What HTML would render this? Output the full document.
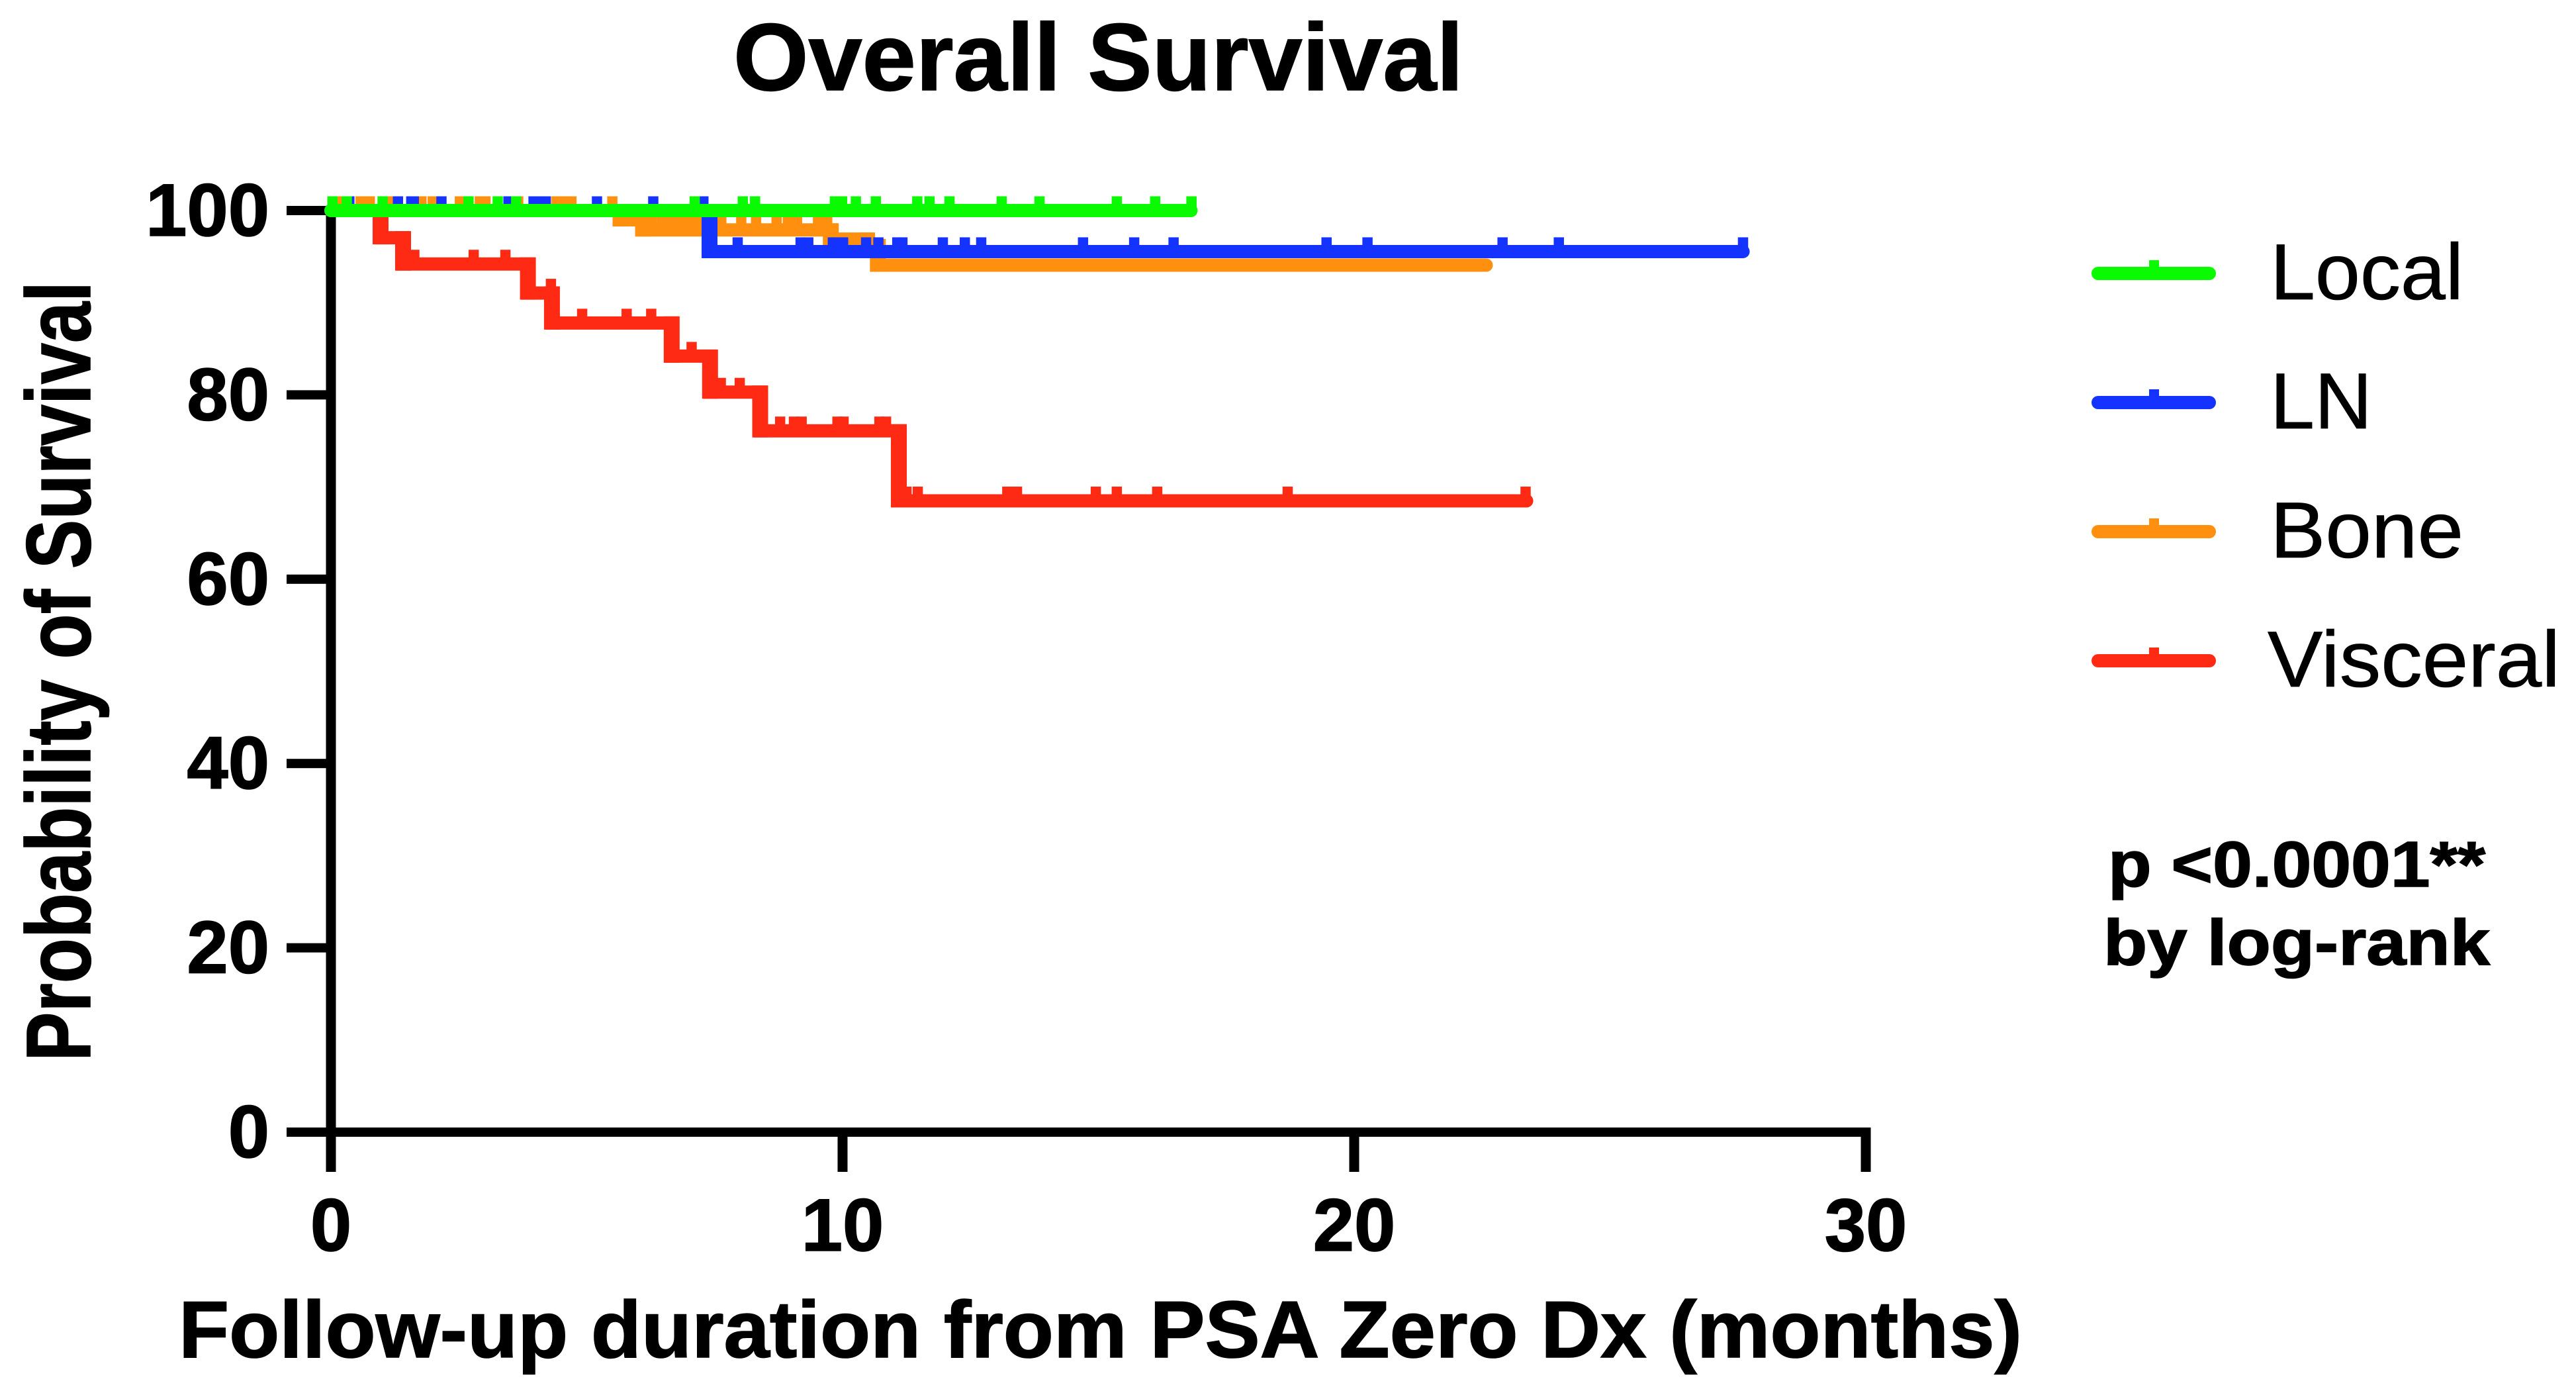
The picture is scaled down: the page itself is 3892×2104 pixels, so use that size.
<!DOCTYPE html>
<html lang="en">
<head>
<meta charset="utf-8">
<title>Overall Survival</title>
<style>
  html, body { margin: 0; padding: 0; background: #ffffff; }
  svg { display: block; }
  text { font-family: "Liberation Sans", Arial, sans-serif; fill: #000000; }
  .bold { font-weight: 700; stroke: #000000; stroke-width: 1.6px; }
</style>
</head>
<body>
<svg id="chart" xmlns="http://www.w3.org/2000/svg" width="3892" height="2104" viewBox="0 0 3892 2104">
  <rect x="0" y="0" width="3892" height="2104" fill="#ffffff"/>
  <text class="bold" x="1108" y="136" font-size="144" textLength="1103" lengthAdjust="spacingAndGlyphs">Overall Survival</text>
  <text class="bold" transform="translate(136 1603) rotate(-90)" font-size="138" textLength="1178" lengthAdjust="spacingAndGlyphs">Probability of Survival</text>
  <text class="bold" x="270" y="2050" font-size="122" textLength="2785" lengthAdjust="spacingAndGlyphs">Follow-up duration from PSA Zero Dx (months)</text>
  <g id="axes"></g>
  <g id="series"></g>
  <g id="legend"></g>
  <text class="bold" x="3185" y="1339" font-size="97" textLength="570" lengthAdjust="spacingAndGlyphs">p &lt;0.0001**</text>
  <text class="bold" x="3178" y="1457" font-size="97" textLength="584" lengthAdjust="spacingAndGlyphs">by log-rank</text>
</svg>
<script>
// ---- chart data (months, % survival) ----
const xTickValues = [0, 10, 20, 30];
const yTickValues = [0, 20, 40, 60, 80, 100];

const seriesNames = ['Visceral', 'Bone', 'LN', 'Local'];

const visceralTimes = [0, 0.97, 1.41, 3.85, 4.32, 6.66, 7.41, 8.39, 11.1];
const visceralSurvival = [100, 97.05, 94.2, 91.05, 87.8, 84.2, 80.3, 76.1, 68.5];
const visceralEnd = 23.5;
const visceralCensors = [1.63, 2.79, 3.41, 4.3, 4.91, 5.78, 6.26, 7.05, 7.62, 7.99, 8.78, 9.05, 9.2, 9.9, 10.02, 10.72, 10.85, 11.25, 11.47, 13.22, 13.41, 14.95, 15.36, 16.15, 18.7, 23.35];

const boneTimes = [0, 5.66, 6.1, 9.77, 10.48, 10.69];
const boneSurvival = [100, 98.99, 97.9, 96.9, 96.2, 94.07];
const boneEnd = 22.71;
const boneCensors = [0.15, 0.58, 0.76, 1.14, 1.77, 1.99, 2.52, 2.91, 3.02, 3.66, 4.41, 4.58, 4.7, 5.5, 6.27, 6.47, 6.66, 6.86, 7.05, 7.24, 7.63, 8.02, 8.31, 8.71, 8.93, 9.11, 9.52, 9.7];

const lnTimes = [0, 7.4];
const lnSurvival = [100, 95.55];
const lnEnd = 27.73;
const lnCensors = [0.36, 1.31, 1.57, 1.62, 2.16, 3.47, 3.96, 4.09, 4.2, 5.2, 6.3, 7.28, 7.95, 9.18, 9.33, 9.81, 10.01, 10.46, 10.7, 11.07, 11.17, 11.96, 12.39, 12.71, 14.7, 15.7, 16.47, 19.46, 20.26, 22.9, 24.0, 27.6];

const localTimes = [0];
const localSurvival = [100];
const localEnd = 16.94;
const localCensors = [0.03, 0.31, 1.01, 2.69, 3.26, 3.62, 7.11, 8.05, 8.29, 9.85, 9.99, 10.26, 10.65, 11.46, 11.7, 12.09, 13.11, 13.85, 15.36, 16.11, 16.82];

const legendLabels = ['Local', 'LN', 'Bone', 'Visceral'];

// ---- axis functions ----
const xScale = function (t) { return 500 + t * 77.3; };
const yScale = function (v) { return 1710 - v * 13.92; };

const NS = 'http://www.w3.org/2000/svg';
function mk(tag, attrs, parent) {
  const el = document.createElementNS(NS, tag);
  for (const k in attrs) el.setAttribute(k, attrs[k]);
  parent.appendChild(el);
  return el;
}

// ---- axes ----
const axes = document.getElementById('axes');

const yAxisLine = mk('rect', { x: 492.5, y: yScale(100) - 7, width: 15, height: 1770 - yScale(100) + 7, fill: '#000' }, axes);



const xAxisLine = mk('rect', { x: 433, y: yScale(0) - 7, width: xScale(30) + 7.5 - 433, height: 14, fill: '#000' }, axes);



yTickValues.forEach(function (v) {
  const tick = mk('rect', { x: 433, y: yScale(v) - 7, width: 67, height: 14, fill: '#000' }, axes);
  
  
  const label = mk('text', { x: 407, y: yScale(v) + 38, 'text-anchor': 'end', 'font-size': 112, 'class': 'bold' }, axes);
  label.textContent = String(v);
  
  
});

xTickValues.forEach(function (v) {
  const tick = mk('rect', { x: xScale(v) - 7.5, y: yScale(0), width: 15, height: 1770 - yScale(0), fill: '#000' }, axes);
  
  
  const label = mk('text', { x: xScale(v), y: 1889, 'text-anchor': 'middle', 'font-size': 112, 'class': 'bold' }, axes);
  label.textContent = String(v);
  
  
});

// ---- curves ----
const seriesColors = { Local: '#0AFA02', LN: '#1533FF', Bone: '#FF900F', Visceral: '#FF2A14' };
const seriesTimes = { Local: localTimes, LN: lnTimes, Bone: boneTimes, Visceral: visceralTimes };
const seriesValues = { Local: localSurvival, LN: lnSurvival, Bone: boneSurvival, Visceral: visceralSurvival };
const seriesEnds = { Local: localEnd, LN: lnEnd, Bone: boneEnd, Visceral: visceralEnd };
const seriesCensors = { Local: localCensors, LN: lnCensors, Bone: boneCensors, Visceral: visceralCensors };

function survivalAt(times, values, t) {
  let v = values[0];
  for (let i = 0; i < times.length; i++) { if (times[i] <= t) v = values[i]; }
  return v;
}

const seriesGroup = document.getElementById('series');
const LINE_W = 20;
const DROP_W = 24;
const CENSOR_W = 15.5;
const CENSOR_H = 21.5;

seriesNames.forEach(function (name) {
  const key = name.toLowerCase();
  const times = seriesTimes[name];
  const values = seriesValues[name];
  const color = seriesColors[name];
  const g = mk('g', {}, seriesGroup);
  
  

  let d = 'M' + xScale(times[0]) + ' ' + yScale(values[0]);
  for (let i = 1; i < times.length; i++) {
    d += ' H' + xScale(times[i]) + ' V' + yScale(values[i]);
  }
  d += ' H' + (xScale(seriesEnds[name]) - LINE_W / 2);
  const line = mk('path', { d: d, fill: 'none', stroke: color, 'stroke-width': LINE_W, 'stroke-linecap': 'round', 'stroke-linejoin': 'miter' }, g);
  
  

  for (let i = 1; i < times.length; i++) {
    const drop = mk('rect', { x: xScale(times[i]) - DROP_W / 2, y: yScale(values[i - 1]) - LINE_W / 2, width: DROP_W, height: yScale(values[i]) - yScale(values[i - 1]) + LINE_W, fill: color }, g);
    
    
  }

  seriesCensors[name].forEach(function (t) {
    const y = yScale(survivalAt(times, values, t));
    const mark = mk('rect', { x: xScale(t) - CENSOR_W / 2, y: y - CENSOR_H, width: CENSOR_W, height: CENSOR_H, fill: color }, g);
    
    
  });
});

// ---- legend ----
const legend = document.getElementById('legend');
const legendTextLengths = { Local: 292, LN: 154, Bone: 292, Visceral: 442 };
const legendTextX = { Local: 3430, LN: 3430, Bone: 3430, Visceral: 3426 };
legendLabels.forEach(function (name, i) {
  const key = name.toLowerCase();
  const cy = 413 + i * 195;
  const g = mk('g', {}, legend);
  
  
  const sw = mk('line', { x1: 3170, x2: 3338, y1: cy, y2: cy, stroke: seriesColors[name], 'stroke-width': 20, 'stroke-linecap': 'round' }, g);
  
  
  const tk = mk('rect', { x: 3247, y: cy - 20, width: 15, height: 20, fill: seriesColors[name] }, g);
  
  
  const tx = mk('text', { x: legendTextX[name], y: cy + 39, 'font-size': 120, stroke: '#000', 'stroke-width': 0.8, textLength: legendTextLengths[name], lengthAdjust: 'spacingAndGlyphs' }, g);
  tx.textContent = name;
  
  
});
</script>
</body>
</html>
